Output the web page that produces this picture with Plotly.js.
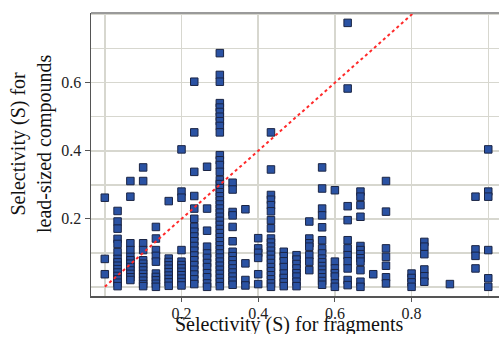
<!DOCTYPE html>
<html>
<head>
<meta charset="utf-8">
<script src="https://cdn.plot.ly/plotly-3.0.1.min.js"></script>
<style>html,body{margin:0;padding:0;background:#fff;}#chart{width:499px;height:338px;}</style>
</head>
<body>
<div id="chart"></div>
<script>
// Fragment selectivity (x) for each column of points
const colX = [0, 0.0333, 0.0667, 0.1, 0.1333, 0.1667, 0.2, 0.2333, 0.2667, 0.3,
  0.3333, 0.3667, 0.4, 0.4333, 0.4667, 0.5, 0.5333, 0.5667, 0.6, 0.6333,
  0.6667, 0.7, 0.7333, 0.8, 0.8333, 0.9, 0.9667, 1.0];
// Lead-sized compound selectivity (y) values in each column
const colY = [
  [0.262, 0.082, 0.037],
  [0.223, 0.192, 0.171, 0.141, 0.126, 0.102, 0.082, 0.072, 0.062, 0.052, 0.042, 0.032, 0.022, 0.012, 0.002],
  [0.311, 0.265, 0.128, 0.108, 0.088, 0.078, 0.068, 0.058, 0.048, 0.038, 0.028, 0.02],
  [0.351, 0.311, 0.128, 0.108, 0.078, 0.068, 0.058, 0.048, 0.038, 0.028, 0.018, 0.008, 0.002],
  [0.176, 0.142, 0.108, 0.091, 0.074, 0.039, 0.029, 0.019, 0.009, 0.0],
  [0.252, 0.083, 0.073, 0.063, 0.053, 0.043, 0.033, 0.023, 0.013, 0.003],
  [0.404, 0.28, 0.262, 0.108, 0.074, 0.064, 0.054, 0.044, 0.034, 0.024, 0.014, 0.004],
  [0.603, 0.454, 0.338, 0.267, 0.23, 0.2, 0.176, 0.162, 0.148, 0.134, 0.12, 0.106, 0.092, 0.078, 0.064, 0.05, 0.036, 0.022, 0.008],
  [0.353, 0.23, 0.165, 0.118, 0.098, 0.085, 0.07, 0.058, 0.04, 0.028, 0.01, 0.0],
  [0.687, 0.623, 0.603, 0.54, 0.527, 0.514, 0.5, 0.487, 0.473, 0.454, 0.387, 0.372, 0.358, 0.338,
   0.314, 0.302, 0.29, 0.278, 0.266, 0.254, 0.242, 0.23, 0.218, 0.206, 0.194, 0.182, 0.17, 0.158,
   0.146, 0.134, 0.122, 0.11, 0.098, 0.086, 0.074, 0.062, 0.05, 0.038, 0.026, 0.014, 0.002],
  [0.306, 0.286, 0.22, 0.21, 0.176, 0.134, 0.103, 0.09, 0.078, 0.066, 0.054, 0.042, 0.03, 0.018, 0.006],
  [0.228, 0.069, 0.02, 0.004],
  [0.143, 0.113, 0.1, 0.085, 0.037, 0.008],
  [0.454, 0.345, 0.27, 0.256, 0.24, 0.222, 0.196, 0.172, 0.142, 0.13, 0.118, 0.106, 0.094, 0.082, 0.07, 0.058, 0.046, 0.034, 0.022, 0.01, 0.0],
  [0.103, 0.09, 0.075, 0.058, 0.039, 0.026, 0.013, 0.002],
  [0.093, 0.08, 0.067, 0.054, 0.04, 0.03, 0.015, 0.002],
  [0.192, 0.142, 0.128, 0.118, 0.093, 0.074, 0.049],
  [0.351, 0.289, 0.23, 0.21, 0.175, 0.137, 0.113, 0.098, 0.083, 0.072, 0.061, 0.05, 0.039, 0.028, 0.017, 0.006],
  [0.284, 0.074, 0.054, 0.04, 0.03, 0.01, 0.0],
  [0.776, 0.583, 0.237, 0.196, 0.137, 0.113, 0.093, 0.075, 0.054, 0.02, 0.005],
  [0.28, 0.265, 0.24, 0.206, 0.12, 0.108, 0.096, 0.084, 0.074, 0.049, 0.015, 0.0],
  [0.037],
  [0.311, 0.221, 0.113, 0.088, 0.062, 0.028, 0.01],
  [0.039, 0.026, 0.013, 0.0],
  [0.132, 0.118, 0.096, 0.051, 0.031, 0.015],
  [0.008],
  [0.265, 0.11, 0.091, 0.054],
  [0.404, 0.28, 0.265, 0.108, 0.025, 0.0]
];
// Reference diagonal (y = x)
const diagX = [0, 1];
const diagY = [0, 1];
// Tick labels and axis titles
const xTickVals = [0.2, 0.4, 0.6, 0.8];
const xTickText = ['0.2', '0.4', '0.6', '0.8'];
const yTickVals = [0.2, 0.4, 0.6];
const yTickText = ['0.2', '0.4', '0.6'];
const xTitle = 'Selectivity (S) for fragments';
const yTitle = 'Selectivity (S) for<br>lead-sized compounds';

const px = [], py = [];
colX.forEach((x, i) => colY[i].forEach(y => { px.push(x); py.push(y); }));

const font = '"Liberation Serif", "Times New Roman", serif';
const gridColor = '#d7d7cf';

const traces = [
  {
    x: px, y: py, type: 'scatter', mode: 'markers',
    marker: {symbol: 'square', size: 7.5, color: '#2a52a3', line: {color: '#1a2444', width: 1}},
    hoverinfo: 'skip'
  },
  {
    x: diagX, y: diagY, type: 'scatter', mode: 'lines',
    line: {color: '#ff2a2a', width: 2, dash: 'dot'},
    hoverinfo: 'skip'
  }
];

const layout = {
  width: 499, height: 338,
  margin: {l: 91, r: 0, t: 13, b: 42},
  paper_bgcolor: '#ffffff', plot_bgcolor: '#ffffff',
  showlegend: false,
  font: {family: font, size: 16, color: '#222'},
  xaxis: {
    range: [-0.036, 1.028],
    tickmode: 'array', tickvals: xTickVals, ticktext: xTickText,
    ticks: 'outside', ticklen: 4, tickcolor: '#555', tickwidth: 1,
    ticklabelstandoff: -2,
    showgrid: true, gridcolor: gridColor, gridwidth: 1.5,
    minor: {tickmode: 'linear', tick0: 0, dtick: 0.2, showgrid: true, gridcolor: gridColor, gridwidth: 1.5, ticks: ''},
    zeroline: false,
    showline: true, linecolor: '#555', linewidth: 1.5,
    tickfont: {family: font, size: 16, color: '#222'}
  },
  yaxis: {
    range: [-0.027, 0.805],
    tickmode: 'array', tickvals: yTickVals, ticktext: yTickText,
    ticks: 'outside', ticklen: 5, tickcolor: '#555', tickwidth: 1,
    showgrid: true, gridcolor: gridColor, gridwidth: 1.5,
    minor: {tickmode: 'linear', tick0: 0, dtick: 0.1, showgrid: true, gridcolor: gridColor, gridwidth: 1.5, ticks: ''},
    zeroline: false,
    showline: true, linecolor: '#555', linewidth: 1.5,
    tickfont: {family: font, size: 16, color: '#222'}
  },
  annotations: [
    {text: xTitle, xref: 'paper', yref: 'paper', x: 0.485, y: -0.1413, xanchor: 'center', yanchor: 'bottom',
     height: 20, showarrow: false, font: {family: font, size: 20, color: '#111'}},
    {text: yTitle, xref: 'paper', yref: 'paper', x: -0.147, y: 0.537, xanchor: 'center', yanchor: 'middle',
     textangle: -90, showarrow: false, font: {family: font, size: 20, color: '#111'}}
  ],
  shapes: [
    {type: 'line', xref: 'paper', yref: 'paper', x0: 0, x1: 1, y0: 1, y1: 1, line: {color: '#9a9a9a', width: 2}}
  ]
};

Plotly.newPlot('chart', traces, layout, {displayModeBar: false, staticPlot: true});
</script>
</body>
</html>
